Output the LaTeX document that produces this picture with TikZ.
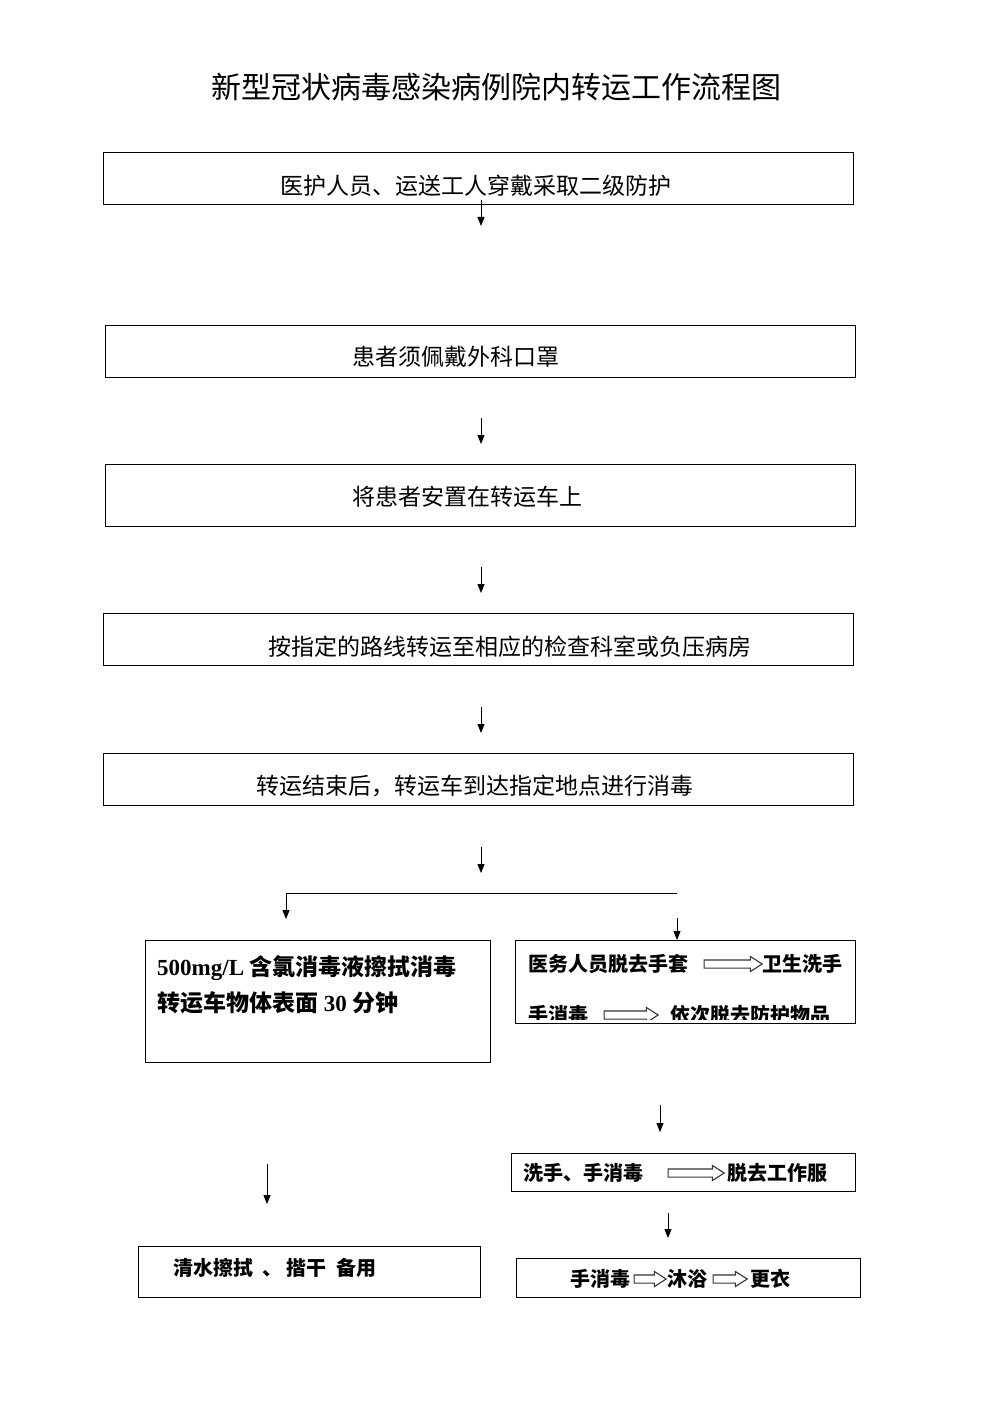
\documentclass[tikz,border=0pt]{standalone}
\usepackage{fontspec}
\setmainfont{Liberation Serif}
\newfontfamily\cjk{Noto Sans CJK SC}
\usetikzlibrary{arrows.meta,fit,shapes.arrows}
\tikzset{
  box/.style={draw=black, line width=1pt, inner sep=0pt, fill=none},
  txt/.style={inner sep=0pt, text=black},
  big/.style={txt, font=\cjk\fontsize{23}{27}\selectfont},
  bigb/.style={txt, font=\bfseries\fontsize{23}{27}\selectfont},
  small/.style={txt, font=\cjk\bfseries\fontsize{20}{24}\selectfont},
  flow/.style={draw=black, line width=0.9pt, -{Triangle[length=9pt,width=7pt]}},
  hollow/.style={shape=single arrow, draw=black!80, line width=1.1pt, fill=white,
    inner xsep=0pt, inner ysep=3.5pt, single arrow head extend=3.5pt,
    single arrow tip angle=65, anchor=center},
}
\begin{document}
\begin{tikzpicture}[x=1pt,y=-1pt]
\path[fill=white] (0,0) rectangle (993,1404);
\useasboundingbox (0,0) rectangle (993,1404);

% title
\node[txt, font=\cjk\fontsize{30}{34}\selectfont] (title) at (496,87) {新型冠状病毒感染病例院内转运工作流程图};

% main boxes
\node[box, fit={(103,153) (853,205)}] (b1) {};
\node[big, anchor=west] (t1) at (280,186) {医护人员、运送工人穿戴采取二级防护};
\node[box, fit={(105,325) (855,377)}] (b2) {};
\node[big, anchor=west] (t2) at (352,357) {患者须佩戴外科口罩};
\node[box, fit={(105,464) (855,526)}] (b3) {};
\node[big, anchor=west] (t3) at (352,497) {将患者安置在转运车上};
\node[box, fit={(103,613) (853,665)}] (b4) {};
\node[big, anchor=west] (t4) at (268,647) {按指定的路线转运至相应的检查科室或负压病房};
\node[box, fit={(103,753) (853,805)}] (b5) {};
\node[big, anchor=west] (t5) at (256,786) {转运结束后，转运车到达指定地点进行消毒};

% flow arrows
\coordinate (a1s) at (481,200); \coordinate (a1e) at (481,226);
\coordinate (a2s) at (481,418); \coordinate (a2e) at (481,444);
\coordinate (a3s) at (481,567); \coordinate (a3e) at (481,593);
\coordinate (a4s) at (481,707); \coordinate (a4e) at (481,733);
\coordinate (a5s) at (481,847); \coordinate (a5e) at (481,873);
\draw[flow] (a1s) -- (a1e);
\draw[flow] (a2s) -- (a2e);
\draw[flow] (a3s) -- (a3e);
\draw[flow] (a4s) -- (a4e);
\draw[flow] (a5s) -- (a5e);

% split
\coordinate (sr) at (677,893);
\coordinate (sl) at (286,893);
\coordinate (sle) at (286,919);
\draw[flow] (sr) -- (sl) -- (sle);
\coordinate (rs) at (677,918); \coordinate (re) at (677,940);
\draw[flow] (rs) -- (re);

% left branch
\node[box, fit={(145,940) (490,1062)}] (lb1) {};
\node[bigb, anchor=west] (lt1) at (157,968) {500mg/L {\cjk 含氯消毒液擦拭消毒}};
\node[bigb, anchor=west] (lt2) at (157,1003) {{\cjk 转运车物体表面} 30 {\cjk 分钟}};
\coordinate (ls) at (267,1164); \coordinate (le) at (267,1204);
\draw[flow] (ls) -- (le);
\node[box, fit={(138,1246) (480,1297)}] (lb2) {};
\node[small, anchor=west] (lt3) at (173,1268) {清水擦拭\ \ 、\ 揩干\ \ 备用};

% right branch
\node[box, fit={(515,940) (855,1023)}] (rb1) {};
\node[small, anchor=west] (r1a) at (528,964) {医务人员脱去手套};
\node[hollow, minimum height=58pt, minimum width=14pt] (h1) at (730,964) {};
\node[small, anchor=west] (r1b) at (762,964) {卫生洗手};
\begin{scope}
\clip (516,995) rectangle (854,1019);
\node[small, anchor=west] (r2a) at (528,1015) {手消毒};
\node[hollow, minimum height=54pt, minimum width=14pt] (h2) at (628,1015) {};
\node[small, anchor=west] (r2b) at (670,1015) {依次脱去防护物品};
\end{scope}

\coordinate (r2s) at (660,1105); \coordinate (r2e) at (660,1132);
\draw[flow] (r2s) -- (r2e);
\node[box, fit={(511,1153) (855,1191)}] (rb2) {};
\node[small, anchor=west] (r3a) at (523,1173) {洗手、手消毒};
\node[hollow, minimum height=56pt, minimum width=14pt] (h3) at (693,1173) {};
\node[small, anchor=west] (r3b) at (727,1173) {脱去工作服};

\coordinate (r3s) at (668,1213); \coordinate (r3e) at (668,1238);
\draw[flow] (r3s) -- (r3e);
\node[box, fit={(516,1258) (860,1297)}] (rb3) {};
\node[small, anchor=west] (r4a) at (570,1279) {手消毒};
\node[hollow, minimum height=32pt, minimum width=13pt] (h4) at (647,1279) {};
\node[small, anchor=west] (r4b) at (667,1279) {沐浴};
\node[hollow, minimum height=34pt, minimum width=13pt] (h5) at (727,1279) {};
\node[small, anchor=west] (r4c) at (750,1279) {更衣};
\end{tikzpicture}
\end{document}
